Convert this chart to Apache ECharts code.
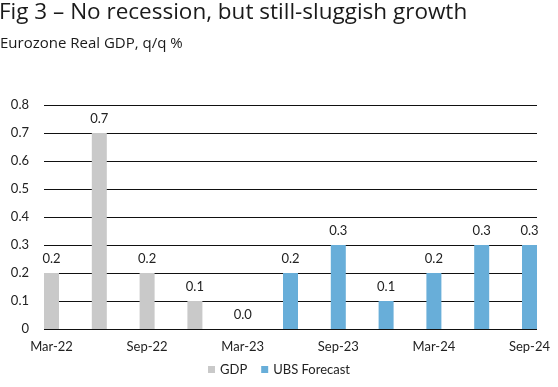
<!DOCTYPE html>
<html><head><meta charset="utf-8">
<script src="https://cdn.jsdelivr.net/npm/echarts@6/dist/echarts.min.js"></script>
<style>html,body{margin:0;padding:0;background:#fff}#c{width:558px;height:387px}</style>
</head><body><div id="c"></div>
<script>
const categories = ['Mar-22','Jun-22','Sep-22','Dec-22','Mar-23','Jun-23','Sep-23','Dec-23','Mar-24','Jun-24','Sep-24'];
const gdpValues = [0.2, 0.7, 0.2, 0.1, 0.0, null, null, null, null, null, null];
const forecastValues = [null, null, null, null, null, 0.2, 0.3, 0.1, 0.2, 0.3, 0.3];
const xTickLabels = ['Mar-22','Sep-22','Mar-23','Sep-23','Mar-24','Sep-24'];
const yTicks = [0, 0.1, 0.2, 0.3, 0.4, 0.5, 0.6, 0.7, 0.8];

const labelFont = 'Lato, "Open Sans", sans-serif';
const toPairs = arr => arr.map((v, i) => v === null ? null : [i, v]);
const tickIdx = xTickLabels.map(l => categories.indexOf(l));

const chart = echarts.init(document.getElementById('c'));
chart.setOption({
  animation: false,
  title: [
    {text: 'Fig 3 – No recession, but still-sluggish growth', left: -1, top: 1, padding: 0,
     textStyle: {fontFamily: '"Open Sans", sans-serif', fontSize: 22.5, fontWeight: 'normal', color: '#1a1a1a'}},
    {text: 'Eurozone Real GDP, q/q %', left: 0, top: 36, padding: 0,
     textStyle: {fontFamily: '"Open Sans", sans-serif', fontSize: 15, fontWeight: 'normal', color: '#1a1a1a'}}
  ],
  legend: {
    bottom: 6, left: 'center', itemWidth: 7, itemHeight: 7, itemGap: 14, icon: 'rect',
    textStyle: {fontFamily: labelFont, fontSize: 13, color: '#222'},
    data: ['GDP', 'UBS Forecast']
  },
  grid: {left: 44, right: 21, top: 105, bottom: 58},
  xAxis: {
    type: 'value', min: -0.157, max: 10.157,
    splitLine: {show: false},
    axisLine: {show: false},
    axisTick: {show: false},
    axisLabel: {
      customValues: tickIdx,
      formatter: v => categories[Math.round(v)] || '',
      fontFamily: labelFont, fontSize: 13, color: '#222', margin: 11
    }
  },
  yAxis: {
    type: 'value', min: 0, max: 0.8, interval: 0.1,
    axisLine: {show: false}, axisTick: {show: false},
    splitLine: {lineStyle: {color: '#111', width: 1}},
    axisLabel: {
      formatter: v => { const t = yTicks.find(x => Math.abs(x - v) < 1e-9); return t === 0 ? '0' : (t !== undefined ? t.toFixed(1) : ''); },
      fontFamily: labelFont, fontSize: 13, color: '#222', margin: 15
    }
  },
  series: [
    {name: 'GDP', type: 'bar', data: toPairs(gdpValues), barWidth: 15, barGap: '-100%',
     itemStyle: {color: '#c9c9c9'},
     label: {show: true, position: 'top', distance: 8, formatter: p => p.value[1].toFixed(1),
       fontFamily: labelFont, fontSize: 13, color: '#222'}},
    {name: 'UBS Forecast', type: 'bar', data: toPairs(forecastValues), barWidth: 15, barGap: '-100%',
     itemStyle: {color: '#68aed9'},
     label: {show: true, position: 'top', distance: 8, formatter: p => p.value[1].toFixed(1),
       fontFamily: labelFont, fontSize: 13, color: '#222'}}
  ]
});
</script></body></html>
